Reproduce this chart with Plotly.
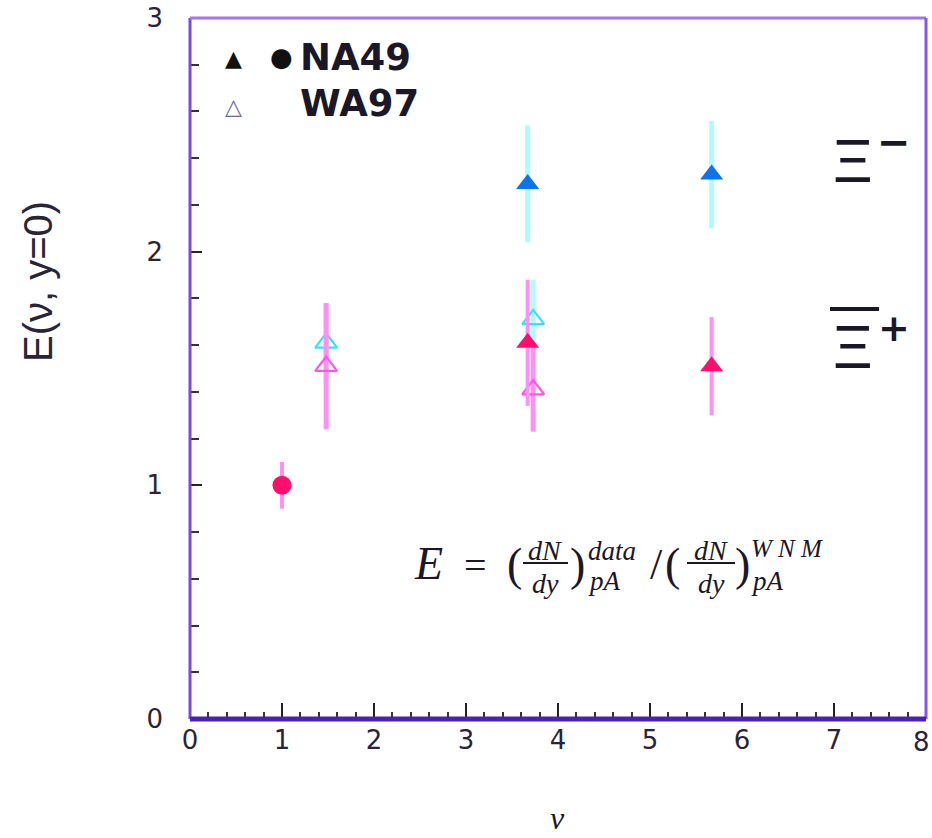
import plotly.graph_objects as go

# ---------------- data ----------------
# NA49 Xi- (filled triangles)
na49_xim_nu = [3.67, 5.67]
na49_xim_E = [2.29, 2.33]
na49_xim_err = [0.25, 0.23]

# NA49 anti-Xi+ (filled circle at nu=1, filled triangles)
na49_xip_pp_nu = [1.0]
na49_xip_pp_E = [1.0]
na49_xip_pp_err = [0.10]
na49_xip_nu = [3.67, 5.67]
na49_xip_E = [1.61, 1.51]
na49_xip_err = [0.27, 0.21]

# WA97 Xi- (open triangles, cyan)
wa97_xim_nu = [1.48, 3.73]
wa97_xim_E = [1.61, 1.71]
wa97_xim_err = [0.17, 0.17]

# WA97 anti-Xi+ (open triangles, magenta)
wa97_xip_nu = [1.48, 3.73]
wa97_xip_E = [1.51, 1.41]
wa97_xip_err = [0.27, 0.18]

x_ticks = [0, 1, 2, 3, 4, 5, 6, 7, 8]
x_ticktext = ["0", "1", "2", "3", "4", "5", "6", "7", ""]  # "8" placed at the edge below
y_ticks = [0, 1, 2, 3]

# ---------------- colours ----------------
BLUE = "#0a74ea"
CYAN_BAR = "#aefcff"
CYAN = "#3cdcff"
PINK = "#ff0e6e"
PINK_BAR = "#ff90f6"
MAGENTA = "#ff55e8"
TXT = "#1c1726"

fig = go.Figure()

def add(nu, E, err, symbol, mcolor, ecolor, size, open_=False, ethick=5):
    marker = dict(symbol=symbol, size=size, color=mcolor)
    if open_:
        marker = dict(symbol=symbol + "-open", size=size, color=mcolor,
                      line=dict(width=2.2, color=mcolor))
    fig.add_trace(go.Scatter(
        x=nu, y=E, mode="markers", marker=marker,
        error_y=dict(type="data", array=err, visible=True, color=ecolor,
                     thickness=ethick, width=0),
        showlegend=False, cliponaxis=False))

add(wa97_xim_nu, wa97_xim_E, wa97_xim_err, "triangle-up", CYAN, CYAN_BAR, 19, open_=True)
add(wa97_xip_nu, wa97_xip_E, wa97_xip_err, "triangle-up", MAGENTA, PINK_BAR, 19, open_=True)
add(na49_xim_nu, na49_xim_E, na49_xim_err, "triangle-up", BLUE, CYAN_BAR, 20)
add(na49_xip_nu, na49_xip_E, na49_xip_err, "triangle-up", PINK, PINK_BAR, 20, ethick=4)
add(na49_xip_pp_nu, na49_xip_pp_E, na49_xip_pp_err, "circle", PINK, PINK_BAR, 19, ethick=4)

ann = []
def A(x, y, text, size, font="Liberation Serif", color=TXT, xanchor="center",
      yanchor="middle", ref="data", angle=0):
    d = dict(x=x, y=y, text=text, showarrow=False, xanchor=xanchor, yanchor=yanchor,
             font=dict(family=font, size=size, color=color), textangle=angle)
    if ref == "paper":
        d.update(xref="paper", yref="paper")
    ann.append(d)

def px2x(px):
    return (px - 190) / 92.0

def px2y(py):
    return (719 - py) / 233.7

# legend (custom)
A(px2x(233), px2y(58), "▲", 22, font="DejaVu Sans", color="#111")
A(px2x(281), px2y(57), "●", 26, font="DejaVu Sans", color="#111")
A(px2x(298), px2y(57), "<b>NA49</b>", 37, font="DejaVu Sans", color=TXT, xanchor="left")
A(px2x(233), px2y(106), "△", 22, font="DejaVu Sans", color="#6a6a9a")
A(px2x(298), px2y(103), "<b>WA97</b>", 37, font="DejaVu Sans", color=TXT, xanchor="left")

# particle labels
A(px2x(853), px2y(161), "Ξ", 61, font="Liberation Sans", color=TXT)
A(px2x(894), px2y(142), "<b>−</b>", 40, font="DejaVu Sans", color=TXT)
A(px2x(853), px2y(347), "Ξ", 61, font="Liberation Sans", color=TXT)
A(px2x(894), px2y(328), "<b>+</b>", 38, font="DejaVu Sans", color=TXT)

# formula
SERIF = "Liberation Serif"
A(px2x(428), px2y(563), "<i>E</i>", 46, font=SERIF)
A(px2x(475), px2y(565), "=", 40, font=SERIF)
A(px2x(514), px2y(564), "(", 46, font=SERIF)
A(px2x(545), px2y(550), "<i>dN</i>", 28, font=SERIF)
A(px2x(545), px2y(583), "<i>dy</i>", 28, font=SERIF)
A(px2x(577), px2y(564), ")", 46, font=SERIF)
A(px2x(586), px2y(551), "<i>data</i>", 27, font=SERIF, xanchor="left")
A(px2x(586), px2y(581), "<i>pA</i>", 27, font=SERIF, xanchor="left")
A(px2x(656), px2y(564), "/", 44, font=SERIF)
A(px2x(672), px2y(564), "(", 46, font=SERIF)
A(px2x(711), px2y(550), "<i>dN</i>", 28, font=SERIF)
A(px2x(711), px2y(583), "<i>dy</i>", 28, font=SERIF)
A(px2x(742), px2y(564), ")", 46, font=SERIF)
A(px2x(749), px2y(548), "<i>W N M</i>", 25, font=SERIF, xanchor="left")
A(px2x(749), px2y(581), "<i>pA</i>", 27, font=SERIF, xanchor="left")

TICKFONT = dict(family="DejaVu Sans", size=26, color="#2a2535")

# last x tick label, kept inside the page edge
ann.append(dict(x=1.0, xref="paper", xanchor="right", xshift=6,
                y=(719 - 725) / 701, yref="paper", yanchor="top",
                text="8", showarrow=False, font=TICKFONT))

# axis titles
A((38 - 190) / 736, (719 - 282) / 701, "E(ν, y=0)", 40, font="Liberation Sans",
  color="#2a2535", ref="paper", angle=-90)
A((557 - 190) / 736, (719 - 838) / 701, "<i>ν</i>", 32, font=SERIF, color=TXT,
  ref="paper", yanchor="bottom")

shapes = [
    # fraction bars
    dict(type="line", xref="x", yref="y", x0=px2x(523), x1=px2x(568), y0=px2y(563), y1=px2y(563),
         line=dict(color=TXT, width=2)),
    dict(type="line", xref="x", yref="y", x0=px2x(687), x1=px2x(735), y0=px2y(563), y1=px2y(563),
         line=dict(color=TXT, width=2)),
    # anti-particle overline
    dict(type="line", xref="x", yref="y", x0=px2x(830), x1=px2x(879), y0=px2y(309), y1=px2y(309),
         line=dict(color=TXT, width=4)),
    # frame
    dict(type="line", xref="paper", yref="paper", x0=0, x1=0, y0=0, y1=1,
         line=dict(color="#7d46e6", width=3)),
    dict(type="line", xref="paper", yref="paper", x0=0, x1=1, y0=1, y1=1,
         line=dict(color="#a874f2", width=3)),
    dict(type="line", xref="paper", yref="paper", x0=1, x1=1, y0=0, y1=1,
         line=dict(color="#8a55ee", width=3)),
    dict(type="line", xref="paper", yref="paper", x0=0, x1=1, y0=0, y1=0,
         line=dict(color="#4a1fba", width=5)),
]

fig.update_layout(
    width=932, height=838,
    margin=dict(l=190, r=6, t=18, b=119, autoexpand=False),
    paper_bgcolor="white", plot_bgcolor="white",
    annotations=ann, shapes=shapes,
    xaxis=dict(range=[0, 8], tickvals=x_ticks, ticktext=x_ticktext,
               ticks="inside", ticklen=16, tickwidth=2, tickcolor="#222",
               minor=dict(ticks="inside", dtick=0.2, ticklen=7, tickwidth=2, tickcolor="#333"),
               showgrid=False, zeroline=False, showline=False, automargin=False,
               tickfont=TICKFONT, ticklabelstandoff=3, ticklabeloverflow="allow"),
    yaxis=dict(range=[0, 3], tickvals=y_ticks, ticktext=[str(v) for v in y_ticks],
               ticks="inside", ticklen=12, tickwidth=2, tickcolor="#222",
               minor=dict(ticks="inside", dtick=0.2, ticklen=9, tickwidth=2, tickcolor="#333"),
               showgrid=False, zeroline=False, showline=False, automargin=False,
               tickfont=TICKFONT, ticklabelstandoff=26, ticklabeloverflow="allow"),
)

fig.write_html("out.html")
